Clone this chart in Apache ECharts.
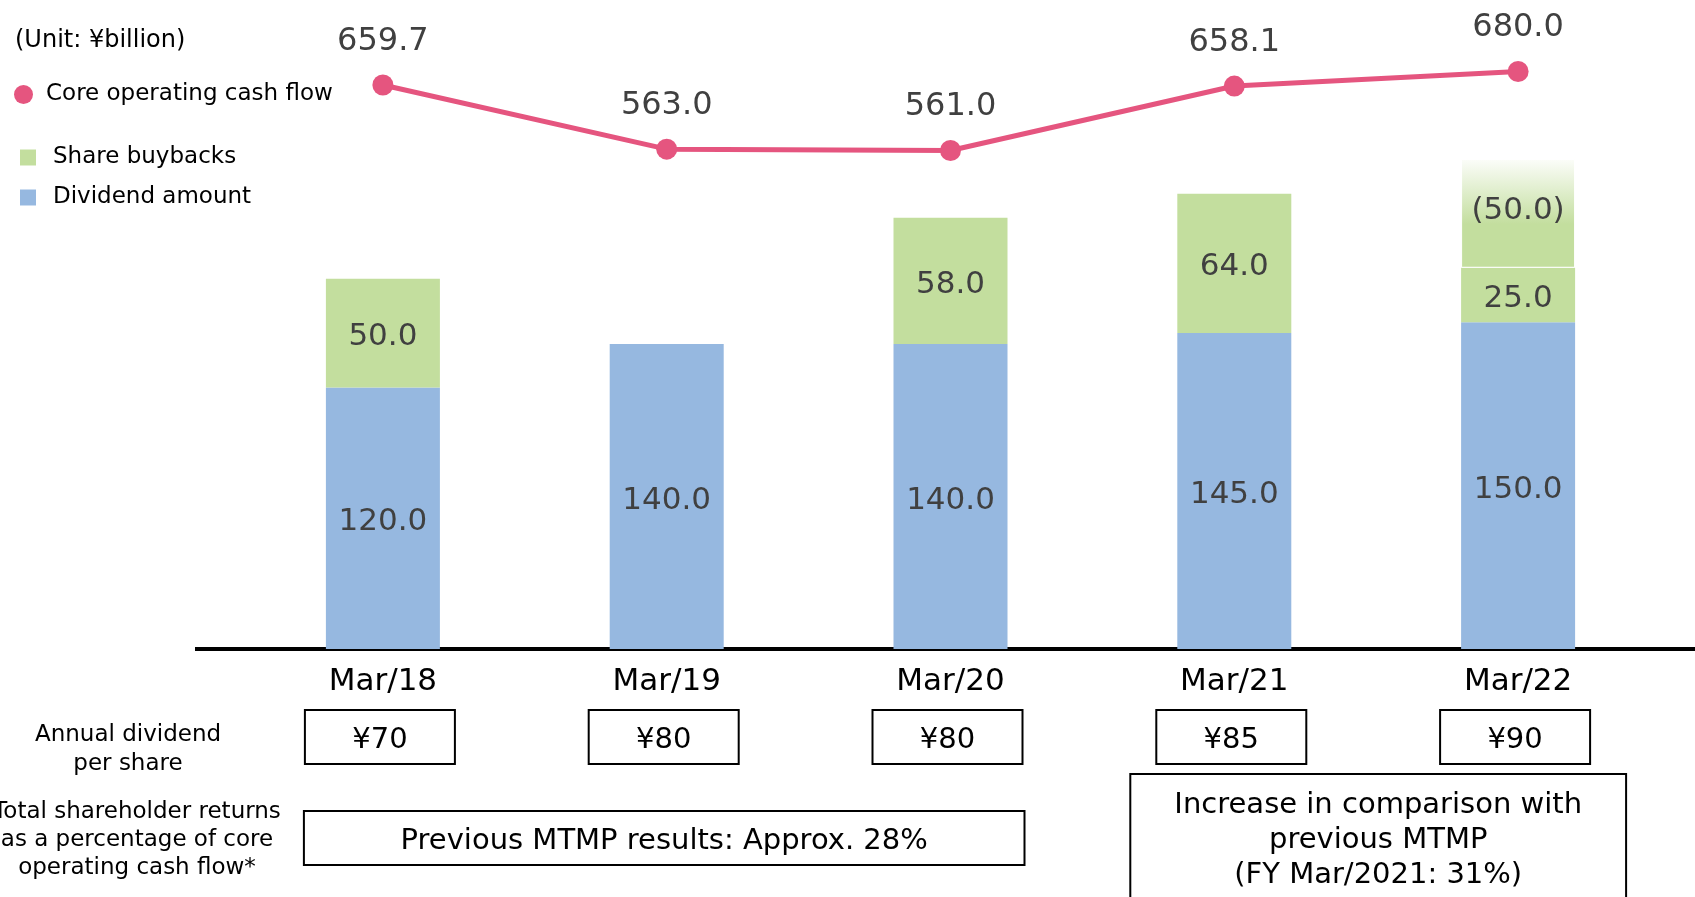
<!DOCTYPE html>
<html>
<head>
<meta charset="utf-8">
<script src="https://cdn.jsdelivr.net/npm/echarts@6/dist/echarts.min.js"></script>
<style>
html,body{margin:0;padding:0;background:#fff;}
#chart{width:1695px;height:897px;}
</style>
</head>
<body>
<div id="chart"></div>
<script>
var categories = ['Mar/18', 'Mar/19', 'Mar/20', 'Mar/21', 'Mar/22'];
var dividendAmount = [120.0, 140.0, 140.0, 145.0, 150.0];
var shareBuybacks = [50.0, '-', 58.0, 64.0, 25.0];
var plannedBuybacks = ['-', '-', '-', '-', 50.0];
var coreOperatingCF = [659.7, 563.0, 561.0, 658.1, 680.0];
var dividendPerShare = ['¥70', '¥80', '¥80', '¥85', '¥90'];
var returnsPrevious = 'Previous MTMP results: Approx. 28%';
var returnsCurrent = 'Increase in comparison with\nprevious MTMP\n(FY Mar/2021: 31%)';

var FONT = '"DejaVu Sans", Verdana, sans-serif';
var BLUE = '#96B8E0';
var GREEN = '#C3DE9E';
var PINK = '#E5557F';
var LABEL = '#404040';

var chart = echarts.init(document.getElementById('chart'), null, {renderer: 'canvas'});

var option = {
  animation: false,
  backgroundColor: '#fff',
  textStyle: {fontFamily: FONT},
  grid: {left: 241, right: 35, top: 39, bottom: 248, containLabel: false},
  legend: [
    {
      data: [{name: 'Core operating cash flow', icon: 'circle'}],
      left: 9, top: 78, orient: 'vertical',
      itemWidth: 19, itemHeight: 19,
      textStyle: {fontFamily: FONT, fontSize: 23, color: '#000', padding: [0, 0, 0, 8]},
      selectedMode: false
    },
    {
      data: [{name: 'Share buybacks', icon: 'rect'}, {name: 'Dividend amount', icon: 'rect'}],
      left: 15, top: 141, orient: 'vertical', itemGap: 17,
      itemWidth: 16, itemHeight: 16,
      textStyle: {fontFamily: FONT, fontSize: 23, color: '#000', padding: [0, 0, 0, 12]},
      selectedMode: false
    }
  ],
  xAxis: {
    type: 'category',
    data: categories,
    axisLine: {show: false},
    axisTick: {show: false},
    axisLabel: {fontFamily: FONT, fontSize: 31, color: '#000', margin: 17}
  },
  yAxis: [
    {type: 'value', min: 0, max: 280, show: false, splitLine: {show: false}},
    {type: 'value', min: -190, max: 729, show: false, splitLine: {show: false}}
  ],
  series: [
    {
      name: 'Dividend amount', type: 'bar', stack: 'total', data: dividendAmount,
      barWidth: 114, itemStyle: {color: BLUE},
      label: {show: true, position: 'inside', offset: [0, 4], fontFamily: FONT, fontSize: 31, color: LABEL,
        formatter: function (p) { return p.value.toFixed(1); }}
    },
    {
      name: 'Share buybacks', type: 'bar', stack: 'total', data: shareBuybacks,
      barWidth: 114, itemStyle: {color: GREEN},
      label: {show: true, position: 'inside', offset: [0, 4], fontFamily: FONT, fontSize: 31, color: LABEL,
        formatter: function (p) { return Number(p.value).toFixed(1); }}
    },
    {
      name: 'Planned buybacks', type: 'bar', stack: 'total', data: plannedBuybacks,
      barWidth: 114,
      itemStyle: {
        color: new echarts.graphic.LinearGradient(0, 0, 0, 1, [
          {offset: 0, color: 'rgba(195,222,158,0.05)'},
          {offset: 0.6, color: GREEN},
          {offset: 1, color: GREEN}
        ]),
        borderColor: '#fff', borderWidth: 1
      },
      label: {show: true, position: 'inside', offset: [0, -2], fontFamily: FONT, fontSize: 31, color: LABEL,
        formatter: function (p) { return '(' + Number(p.value).toFixed(1) + ')'; }}
    },
    {
      name: 'Core operating cash flow', type: 'line', yAxisIndex: 1, data: coreOperatingCF,
      symbol: 'circle', symbolSize: 21,
      lineStyle: {color: PINK, width: 5},
      itemStyle: {color: PINK},
      label: {show: true, position: 'top', distance: 17, fontFamily: FONT, fontSize: 32, color: LABEL,
        formatter: function (p) { return p.value.toFixed(1); }}
    }
  ]
};
chart.setOption(option);

// Annotation graphics positioned through the category axis
var g = [];
g.push({type: 'line', shape: {x1: 195, y1: 649, x2: 1695, y2: 649}, style: {stroke: '#000', lineWidth: 4}});
g.push({type: 'text', left: 15, top: 29, style: {text: '(Unit: ¥billion)', font: '24px ' + FONT, fill: '#000'}});
g.push({type: 'text', x: 128, y: 750, style: {text: 'Annual dividend\nper share', font: '23px ' + FONT, fill: '#000', align: 'center', verticalAlign: 'middle', lineHeight: 29}});
g.push({type: 'text', x: 137, y: 840, style: {text: 'Total shareholder returns\nas a percentage of core\noperating cash flow*', font: '23px ' + FONT, fill: '#000', align: 'center', verticalAlign: 'middle', lineHeight: 28}});

var cx = categories.map(function (c) { return chart.convertToPixel({xAxisIndex: 0}, c); });
for (var i = 0; i < categories.length; i++) {
  var x = cx[i] - 3;
  g.push({type: 'rect', shape: {x: x - 75, y: 710, width: 150, height: 54},
    style: {fill: '#fff', stroke: '#000', lineWidth: 2}});
  g.push({type: 'text', x: x, y: 740, style: {text: dividendPerShare[i], font: '29px ' + FONT, fill: '#000', align: 'center', verticalAlign: 'middle'}});
}
var bx1 = cx[0] - 79, bx2 = cx[2] + 74;
g.push({type: 'rect', shape: {x: bx1, y: 811, width: bx2 - bx1, height: 54}, style: {fill: '#fff', stroke: '#000', lineWidth: 2}});
g.push({type: 'text', x: (bx1 + bx2) / 2, y: 841, style: {text: returnsPrevious, font: '29px ' + FONT, fill: '#000', align: 'center', verticalAlign: 'middle'}});
var cx1 = cx[3] - 104, cx2 = cx[4] + 108;
g.push({type: 'rect', shape: {x: cx1, y: 774, width: cx2 - cx1, height: 140}, style: {fill: '#fff', stroke: '#000', lineWidth: 2}});
g.push({type: 'text', x: (cx1 + cx2) / 2, y: 840, style: {text: returnsCurrent, font: '29px ' + FONT, fill: '#000', align: 'center', verticalAlign: 'middle', lineHeight: 35}});

chart.setOption({graphic: g});
</script>
</body>
</html>
